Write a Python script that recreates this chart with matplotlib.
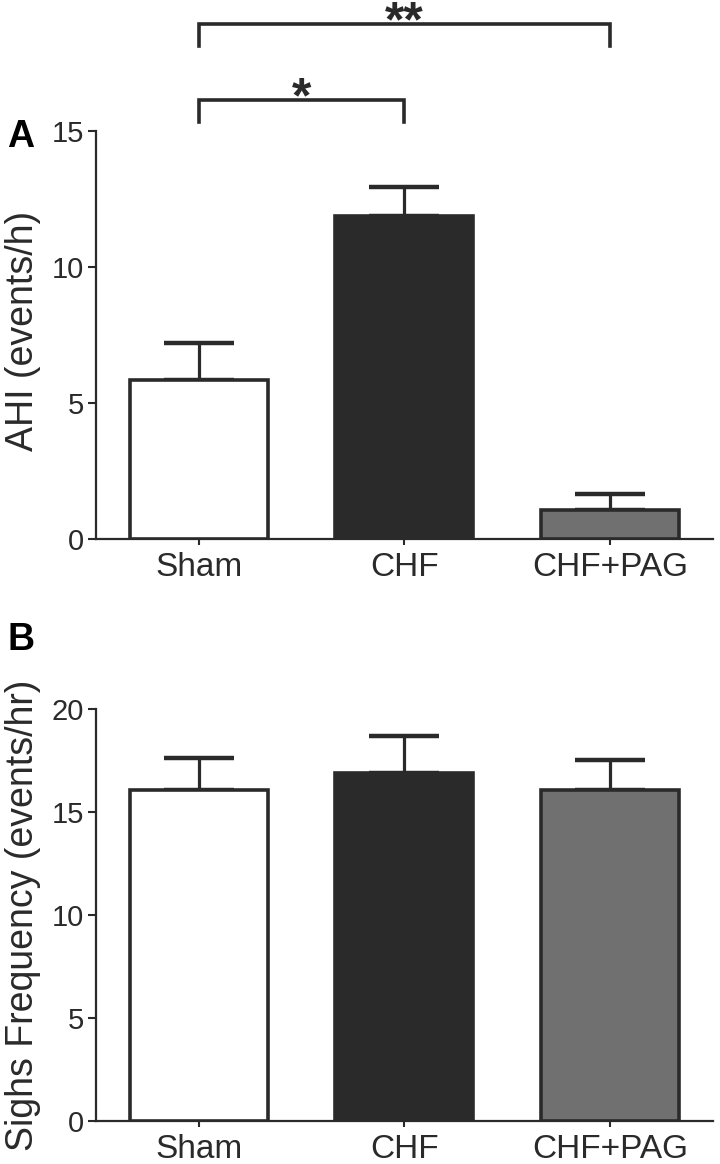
"""Two-panel bar chart: AHI and sighs frequency for Sham, CHF, CHF+PAG"""
import matplotlib.pyplot as plt

plt.rcParams['font.family'] = ['Liberation Sans', 'DejaVu Sans']

groups = ['Sham', 'CHF', 'CHF+PAG']
bar_colours = ['#ffffff', '#2a2a2a', '#707070']

ahi_mean = [5.85, 11.89, 1.07]
ahi_sem = [1.37, 1.04, 0.58]

sighs_mean = [16.07, 16.88, 16.07]
sighs_sem = [1.53, 1.81, 1.47]

# (group a, group b, bracket height, label)
ahi_brackets = [(0, 1, 16.14, '*'), (0, 2, 18.93, '**')]

ink = '#2a2a2a'


def bar_panel(ax, means, sems, ymax, yticks, ylabel):
    x = range(len(groups))
    ax.bar(x, means, width=0.67, color=bar_colours, edgecolor=ink,
           linewidth=2.6, zorder=3)
    ax.errorbar(x, means, yerr=[[0] * len(sems), sems], fmt='none',
                ecolor=ink, elinewidth=2.3, capsize=25, capthick=3.2,
                zorder=2)
    ax.set_xlim(-0.5, 2.5)
    ax.set_ylim(0, ymax)
    ax.set_yticks(yticks)
    ax.set_xticks(list(x))
    ax.set_xticklabels(groups, fontsize=24)
    ax.tick_params(axis='y', labelsize=21, length=5.5, width=1.5,
                   pad=3, colors=ink)
    ax.tick_params(axis='x', length=4.5, width=1.5, pad=4.5, colors=ink)
    for side in ['top', 'right']:
        ax.spines[side].set_visible(False)
    for side in ['left', 'bottom']:
        ax.spines[side].set_linewidth(1.6)
        ax.spines[side].set_color(ink)
    ax.set_ylabel(ylabel, fontsize=27, color=ink)
    ax.yaxis.set_label_coords(-0.088, 0.5)


fig = plt.figure()
fig.set_size_inches(7.2, 11.64)

ax1 = fig.add_axes([95.7 / 720, 1 - 539 / 1164, 617.3 / 720, 408 / 1164])
bar_panel(ax1, ahi_mean, ahi_sem, 15, [0, 5, 10, 15], 'AHI (events/h)')
ax1.yaxis.set_label_coords(-0.088, 0.51)

# Significance brackets above panel A
for a, b, h, label in ahi_brackets:
    ax1.plot([a, a, b, b], [h - 0.82, h, h, h - 0.82], color=ink,
             linewidth=2.6, clip_on=False, solid_joinstyle='miter')
    ax1.text((a + b) / 2, h - 0.45, label, ha='center', va='baseline',
             fontsize=36, fontweight='bold', color=ink)

ax2 = fig.add_axes([95.7 / 720, 1 - 1121 / 1164, 617.3 / 720, 412 / 1164])
bar_panel(ax2, sighs_mean, sighs_sem, 20, [0, 5, 10, 15, 20],
          'Sighs Frequency (events/hr)')

fig.text(7 / 720, 1 - 147 / 1164, 'A', fontsize=27, fontweight='bold')
fig.text(7 / 720, 1 - 650 / 1164, 'B', fontsize=27, fontweight='bold')

plt.savefig('out.png', dpi=100)
plt.close()
